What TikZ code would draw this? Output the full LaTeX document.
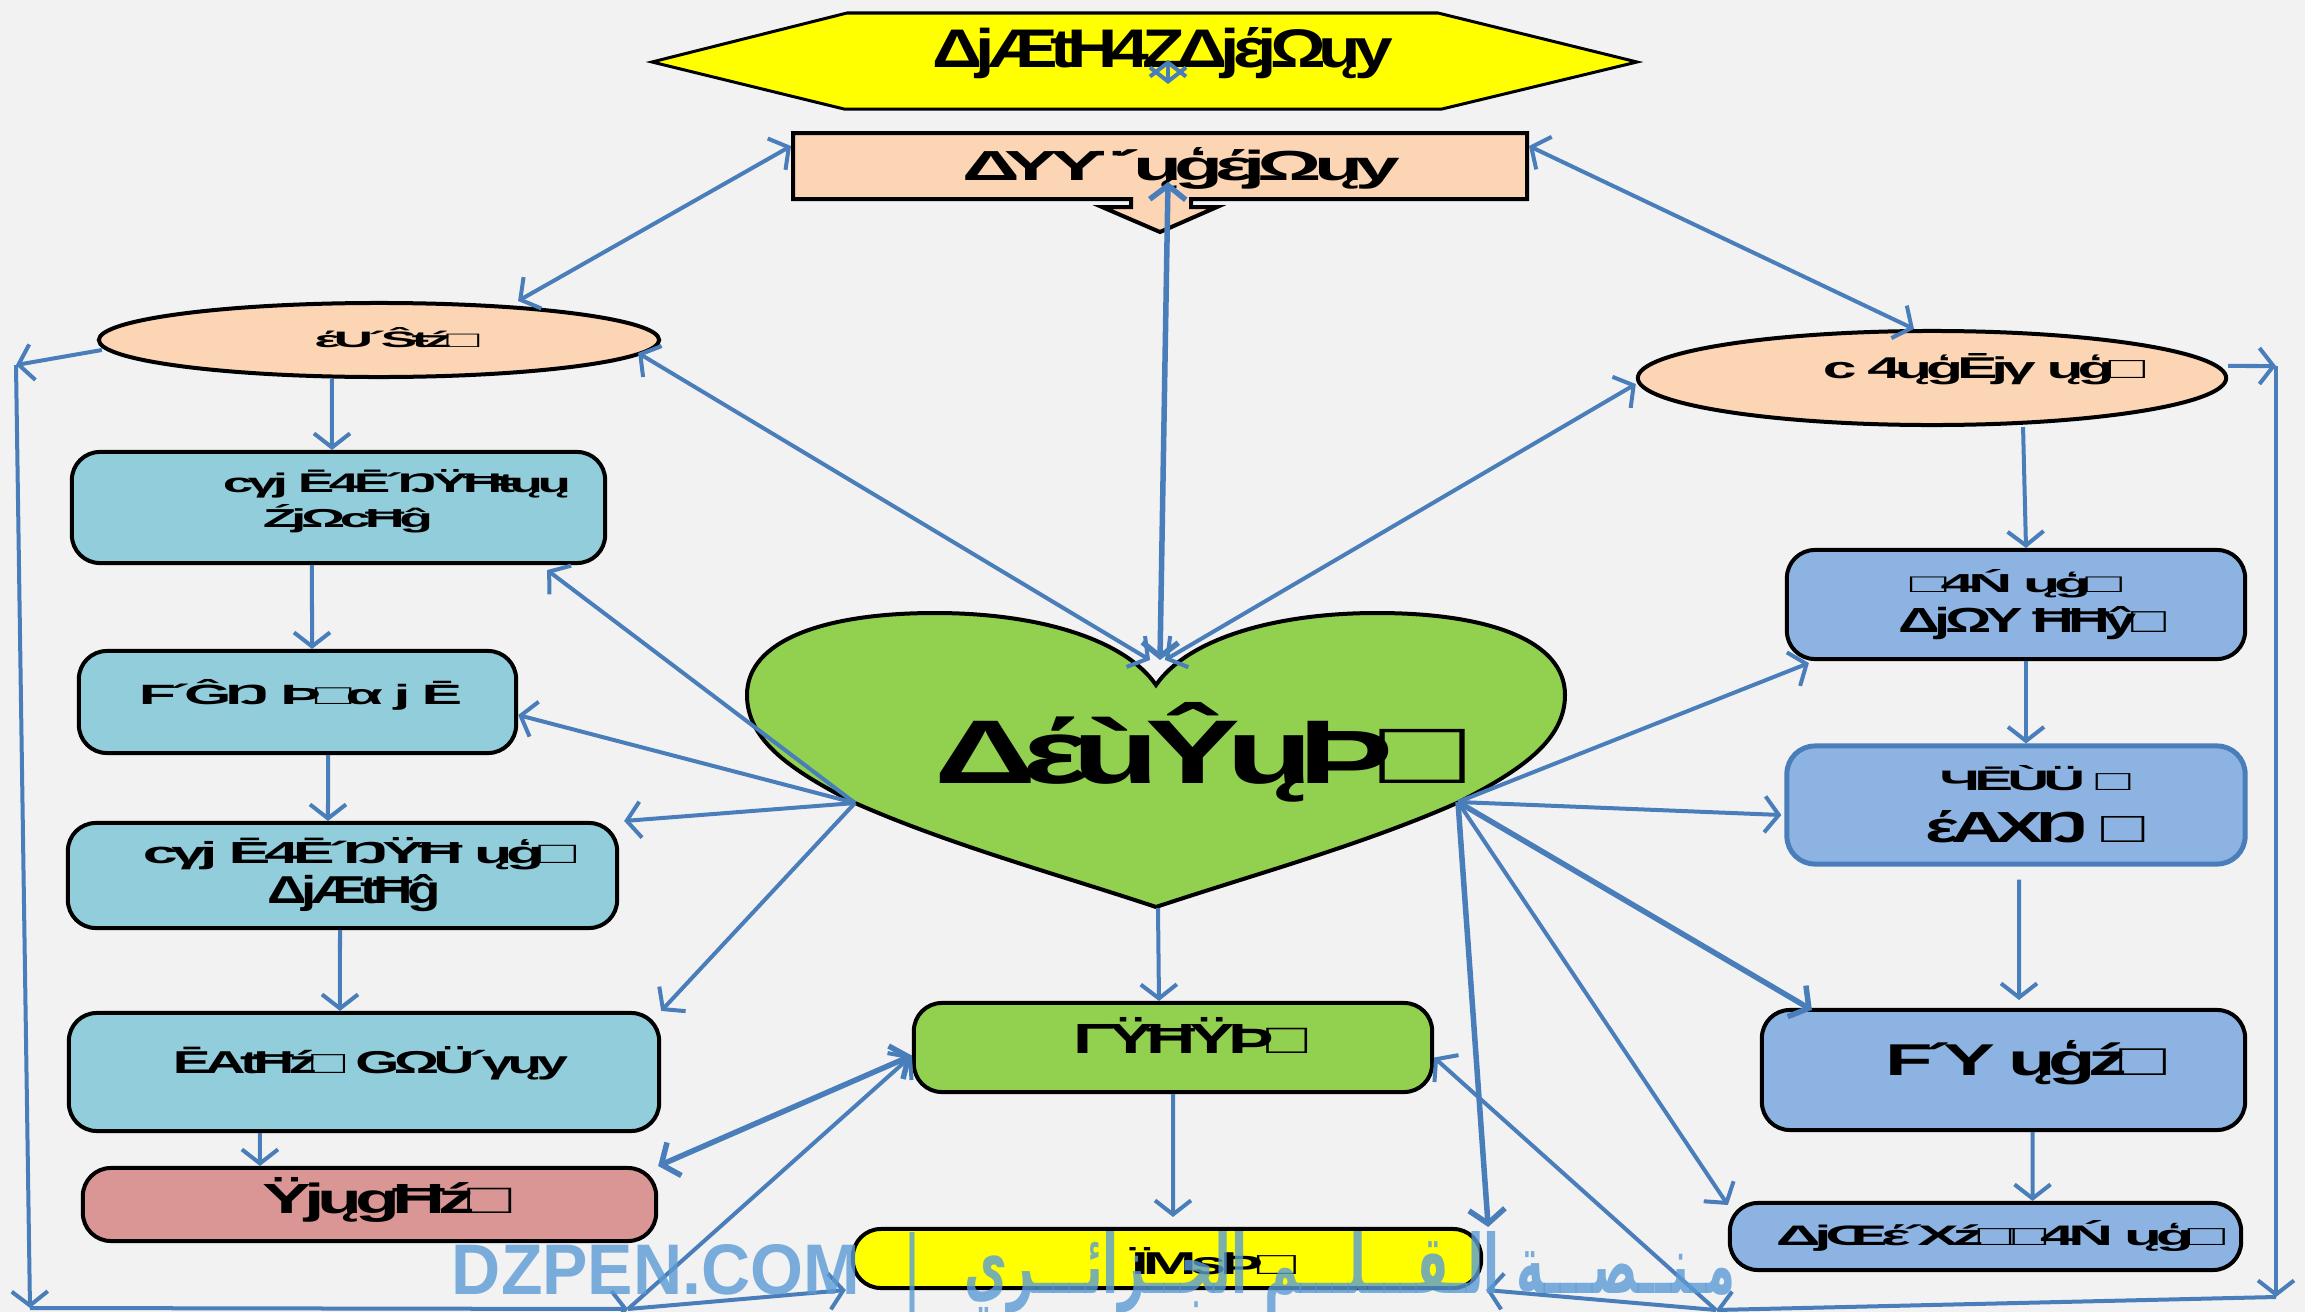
\documentclass[tikz,border=0pt]{standalone}
\usepackage{fontspec}
\usepackage{xcolor}
\usepackage{tikz}
\usetikzlibrary{shapes.geometric,arrows.meta}
\setmainfont{Liberation Sans}
\newfontfamily\gfont[LetterSpace=-10]{Liberation Sans}
\newfontfamily\arabicfont[Script=Arabic]{DejaVu Sans}
\TeXXeTstate=1
\definecolor{bg}{RGB}{242,242,242}
\definecolor{lnc}{RGB}{74,126,187}
\definecolor{cyc}{RGB}{146,205,220}
\definecolor{blc}{RGB}{141,179,226}
\definecolor{pkc}{RGB}{217,150,148}
\definecolor{pec}{RGB}{252,213,181}
\definecolor{grc}{RGB}{146,208,80}
\definecolor{ylc}{RGB}{255,255,0}
\definecolor{wmc}{RGB}{91,155,213}
\newcommand{\gl}[3]{\resizebox{#1cm}{#2cm}{\gfont\bfseries #3}}
\tikzset{base/.style={draw=black,line width=0.04cm,inner sep=0},
  rbox/.style={base,rectangle,rounded corners=0.28cm},
  cybox/.style={rbox,fill=cyc},
  blbox/.style={rbox,fill=blc},
  pkbox/.style={rbox,fill=pkc},
  grbox/.style={rbox,fill=grc},
  ylbox/.style={rbox,fill=ylc},
  ell/.style={base,ellipse,fill=pec},
  tl/.style n args={5}{label={[inner sep=0,xshift=#1cm,yshift=#2cm]center:{\gl{#3}{#4}{#5}}}},
  tx/.style={inner sep=0},
  lnk/.style={draw=lnc,line width=0.04cm},
  thk/.style={draw=lnc,line width=0.055cm},
  wm/.style={inner sep=0,text=wmc,text opacity=0.8}}

\begin{document}
\begin{tikzpicture}[x=0.01cm,y=-0.01cm,>={Straight Barb[length=0.14cm,width=0.36cm]}]
    \useasboundingbox (0,0) rectangle (2305,1312);
    \clip (0,0) rectangle (2305,1312);
    \fill[bg] (0,0) rectangle (2305,1312);

    % loose ends
    \coordinate (hubl) at (855,803);
    \coordinate (hubr) at (1458,802);
    \coordinate (htop) at (1160,660);
    \coordinate (hbot) at (1158,908);
    \coordinate (ltop) at (16,365);
    \coordinate (lbot) at (30,1308);
    \coordinate (lmid) at (628,1309);
    \coordinate (rtop) at (2276,366);
    \coordinate (rbot) at (2276,1297);
    \coordinate (rmid) at (1716,1310);
    \coordinate (caltop) at (1168,182);
    \coordinate (calleft) at (791,146);
    \coordinate (calright) at (1529,146);
    \coordinate (hexup) at (1168,60);
    \coordinate (hexdn) at (1168,84);

    % top shapes
    \draw[base,fill=ylc,line width=0.03cm] (652,62) -- (847,13) -- (1438,13) -- (1637,62) -- (1442,109) -- (844,109) -- cycle;
    \node[tx] (title) at (1163,53) {\gl{4.6}{0.4}{ΔjÆtH4ZΔjέjΩųy}};
    \draw[base,fill=pec] (793,133) -- (1527,133) -- (1527,199) -- (1191,199) -- (1191,207) -- (1217,207) -- (1160,232) -- (1102,207)  -- (1131,207) -- (1131,199) -- (793,199) -- cycle;
    \node[tx] (subtitle) at (1181,168) {\gl{4.37}{0.33}{ΔΥΥ¨´ųģέjΩųy}};

    % heart
    \draw[base,fill=grc] (1156,685) .. controls (1125,640) and (1040,613) .. (935,613) .. controls (825,613) and (747,640) .. (747,695) .. controls (747,740) and (790,770) .. (855,803) .. controls (950,845) and (1060,875) .. (1156,907) .. controls (1252,875) and (1362,845) .. (1457,803) .. controls (1522,770) and (1565,740) .. (1565,695) .. controls (1565,640) and (1487,613) .. (1377,613) .. controls (1272,613) and (1187,640) .. (1156,685) -- cycle;
    \node[tx] (heart) at (1200,752) {\gl{5.31}{0.81}{ΔέùŶųÞ□}};

    % ellipses
    \node[ell,minimum width=5.6cm,minimum height=0.74cm,tl={0.18}{0.02}{1.65}{0.2}{έU´Ŝŧź□}] (ell1) at (379,340) {};
    \node[ell,minimum width=5.88cm,minimum height=0.94cm,tl={0.52}{0.09}{3.22}{0.25}{c 4ųģĒjγ ųģ□}] (ell2) at (1932,378) {};

    % left column
    \node[cybox,minimum width=5.33cm,minimum height=1.11cm,tl={0.585}{0.24}{3.48}{0.23}{cγj Ē4Ē´ŊŸĦŧųų},tl={0.095}{-0.11}{1.7}{0.23}{ŹjΩcĦĝ}] (b1) at (338.5,507.5) {};
    \node[cybox,minimum width=4.37cm,minimum height=1.02cm,tl={0.03}{0.075}{3.23}{0.25}{F´ĜŊ Þ□α j Ē}] (b2) at (297.5,702) {};
    \node[cybox,minimum width=5.49cm,minimum height=1.05cm,tl={0.17}{0.215}{4.33}{0.26}{cγj Ē4Ē´ŊŸĦ ųģ□},tl={0.12}{-0.18}{1.73}{0.29}{ΔjÆtĦĝ}] (b3) at (342.5,875.5) {};
    \node[cybox,minimum width=5.9cm,minimum height=1.18cm,tl={0.065}{0.085}{3.95}{0.27}{ĒAtĦź□ GΩÜ´γųy}] (b4) at (364,1072) {};
    \node[pkbox,minimum width=5.73cm,minimum height=0.73cm,tl={0.18}{0.045}{2.49}{0.36}{ŸjųgĦź□}] (b5) at (369.5,1204.5) {};

    % middle column
    \node[grbox,minimum width=5.18cm,minimum height=0.89cm,tl={0.18}{0.125}{2.34}{0.36}{ΓŸĦŸÞ□}] (c1) at (1173,1047.5) {};
    \node[ylbox,minimum width=6.28cm,minimum height=0.59cm,tl={0.465}{-0.03}{1.65}{0.27}{ÏMsÞ□}] (c2) at (1167,1258.5) {};

    % right column
    \node[blbox,minimum width=4.58cm,minimum height=1.09cm,tl={0}{0.21}{2.12}{0.23}{□4Ń ųģ□},tl={0.165}{-0.185}{2.67}{0.26}{ΔjΩΥ ĦĦŷ□}] (r1) at (2016,604.5) {};
    \node[blbox,draw=lnc,line width=0.05cm,minimum width=4.58cm,minimum height=1.18cm,tl={0.19}{0.265}{1.91}{0.25}{ЧĒÙÜ □},tl={0.195}{-0.22}{2.19}{0.32}{έAXŊ □}] (r2) at (2016,805) {};
    \node[blbox,minimum width=4.83cm,minimum height=1.2cm,tl={0.225}{0.075}{2.81}{0.35}{F´Y ųģź□}] (r3) at (2003.5,1070) {};
    \node[blbox,minimum width=5.11cm,minimum height=0.67cm,tl={0.15}{0.01}{4.49}{0.25}{ΔjŒέ´Xź□□4Ń ųģ□}] (r4) at (1985.5,1236.5) {};

    % top links
    \draw[lnk,<->] (hexup) -- (hexdn);
    \draw[thk,<->] (htop) -- (caltop);
    \draw[lnk,<->] (calleft) -- ([xshift=1.39cm]ell1.north);
    \draw[lnk,<->] (calright) -- ([xshift=-0.18cm]ell2.north);
    \draw[lnk,<->] ([xshift=-0.1cm]htop) -- ([xshift=-0.23cm,yshift=-0.13cm]ell1.east);
    \draw[lnk,<->] ([xshift=0.05cm]htop) -- ([yshift=-0.06cm]ell2.west);

    % down the left
    \draw[lnk,->] ([xshift=-0.47cm]ell1.south) -- ([xshift=-0.065cm]b1.north);
    \draw[lnk,->] ([xshift=-0.265cm]b1.south) -- ([xshift=0.145cm]b2.north);
    \draw[lnk,->] ([xshift=0.305cm]b2.south) -- ([xshift=-0.145cm]b3.north);
    \draw[lnk,->] ([xshift=-0.025cm]b3.south) -- ([xshift=-0.24cm]b4.north);
    \draw[lnk,->] ([xshift=-1.04cm]b4.south) -- ([xshift=-1.095cm]b5.north);

    % down the right
    \draw[lnk,->] ([xshift=0.91cm]ell2.south) -- ([xshift=0.1cm]r1.north);
    \draw[lnk,->] ([xshift=0.1cm]r1.south) -- ([xshift=0.1cm]r2.north);
    \draw[lnk,->,shorten <=0.13cm,shorten >=0.08cm] ([xshift=0.03cm]r2.south) -- ([xshift=0.155cm]r3.north);
    \draw[lnk,->] ([xshift=0.29cm]r3.south) -- ([xshift=0.47cm]r4.north);

    % middle
    \draw[lnk,->] (hbot) -- ([xshift=-0.14cm]c1.north);
    \draw[lnk,->,shorten >=0.1cm] (c1.south) -- ([xshift=0.06cm]c2.north);

    % from the heart
    \draw[lnk,->] (hubl) -- ([xshift=-0.6cm,yshift=-0.05cm]b1.south east);
    \draw[lnk,->] (hubl) -- ([yshift=-0.13cm]b2.east);
    \draw[lnk,->] (hubl) -- ([xshift=0.05cm]b3.north east);
    \draw[lnk,->] (hubl) -- (b4.north east);
    \draw[lnk,->] (hubr) -- ([xshift=0.24cm,yshift=-0.02cm]r1.south west);
    \draw[lnk,->] (hubr) -- ([xshift=-0.03cm,yshift=-0.1cm]r2.west);
    \draw[thk,->] (hubr) -- ([xshift=0.52cm,yshift=-0.02cm]r3.north west);
    \draw[lnk,->] (hubr) -- ([yshift=-0.04cm]r4.north west);
    \draw[thk,->] (hubr) -- ([xshift=0.05cm]c2.north east);

    % outer frame
    \draw[lnk,->] ([xshift=0.05cm,yshift=-0.1cm]ell1.west) -- (ltop);
    \draw[lnk,->] (ltop) -- (lbot);
    \draw[lnk,->] (lbot) -- (lmid);
    \draw[lnk,->] (lmid) -- ([xshift=-0.05cm]c2.south west);
    \draw[lnk,->] (lmid) -- ([yshift=-0.08cm]c1.west);
    \draw[thk,<->] ([yshift=-0.08cm]c1.west) -- (b5.north east);
    \draw[lnk,->] ([yshift=0.12cm]ell2.east) -- (rtop);
    \draw[lnk,->] (rtop) -- (rbot);
    \draw[lnk,->] (rbot) -- (rmid);
    \draw[lnk,->] (rmid) -- ([xshift=0.03cm]c2.south east);
    \draw[lnk,->] (rmid) -- ([yshift=-0.1cm]c1.east);

    % watermark
    \node[wm] (wm1) at (656,1270) {\resizebox{4.08cm}{0.5cm}{\bfseries DZPEN.COM}};
    \node[wm] (wm2) at (912,1274) {\resizebox{0.16cm}{0.64cm}{|}};
    \node[wm] (wm3) at (1350,1272) {\resizebox{7.7cm}{0.62cm}{\arabicfont\bfseries\beginR مـنــصـــة الـقـــلـــم الجــزائـــري\endR}};
\end{tikzpicture}
\end{document}
